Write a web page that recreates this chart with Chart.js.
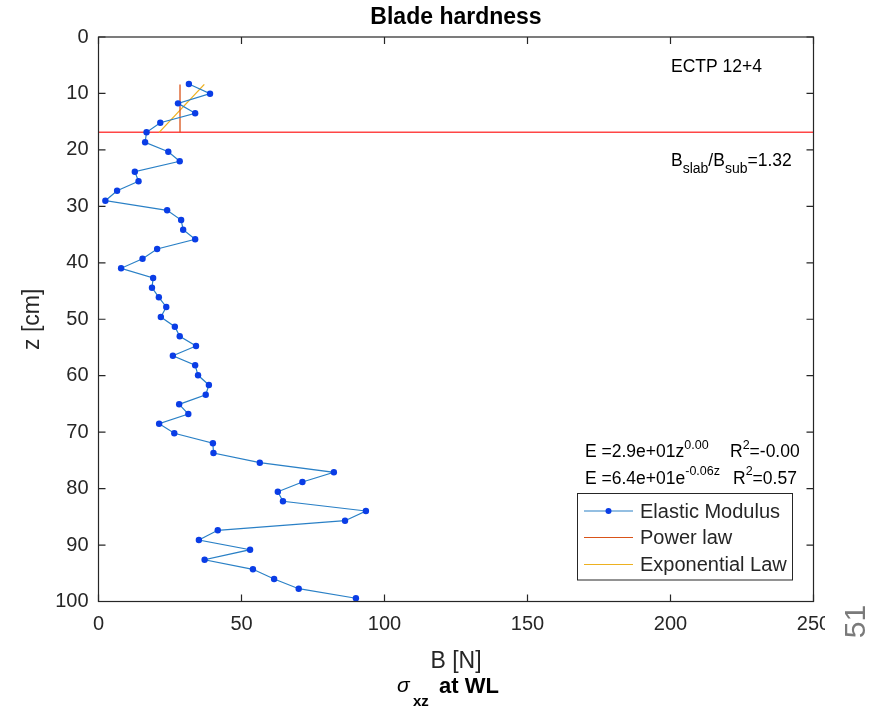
<!DOCTYPE html>
<html><head><meta charset="utf-8">
<script src="https://cdn.jsdelivr.net/npm/chart.js@4.4.1/dist/chart.umd.min.js"></script>
<style>html,body{margin:0;padding:0;background:#fff}#wrap{width:888px;height:710px;position:relative}</style>
</head><body><div id="wrap"><canvas id="c" width="888" height="710"></canvas></div>
<script>
// ---- data ----
const depthZ = [8.33,10.04,11.75,13.52,15.18,16.88,18.65,20.32,22.02,23.86,25.56,27.23,29.0,30.70,32.42,34.14,35.84,37.56,39.27,40.97,42.69,44.41,46.11,47.83,49.60,51.32,53.02,54.74,56.46,58.16,59.93,61.65,63.37,65.07,66.78,68.50,70.20,71.97,73.69,75.41,77.11,78.83,80.55,82.25,83.97,85.69,87.39,89.11,90.82,92.60,94.30,96.01,97.73,99.43];
const bladeB = [31.6,39.0,27.8,33.8,21.6,16.8,16.3,24.4,28.4,12.7,14.0,6.5,2.4,24.0,28.9,29.6,33.8,20.5,15.4,7.9,19.1,18.7,21.1,23.7,21.8,26.7,28.4,34.1,26.0,33.8,34.8,38.6,37.5,28.2,31.4,21.2,26.5,40.0,40.2,56.4,82.3,71.3,62.7,64.5,93.5,86.2,41.7,35.1,53.0,37.1,54.0,61.4,70.0,90.0];
const powerLawB = [28.5, 28.5];
const powerLawZ = [8.4, 16.9];
const expLawB = [37.0, 21.2];
const expLawZ = [8.4, 16.9];
const interfaceZ = [16.88, 16.88];
const interfaceB = [0, 250];
const xTicks = [0, 50, 100, 150, 200, 250];
const yTicks = [0, 10, 20, 30, 40, 50, 60, 70, 80, 90, 100];
const seriesNames = ['Elastic Modulus', 'Power law', 'Exponential Law'];
const titleText = 'Blade hardness';
const xLabel = 'B [N]';
const yLabel = 'z [cm]';

const FONT = "'Liberation Sans', Arial, Helvetica, sans-serif";
const AX = '#262626';
const C_DATA = '#2a80c6', C_MARK = '#0a3de6', C_POW = '#D95319', C_EXP = '#EDB120', C_RED = 'rgb(255,70,70)';

const pts = (xs, ys) => xs.map((x, i) => ({x: x, y: ys[i]}));

const decor = {
  id: 'decor',
  afterDraw(chart) {
    const ctx = chart.ctx, a = chart.chartArea;
    const sx = chart.scales.x, sy = chart.scales.y;
    ctx.save();
    // box
    ctx.strokeStyle = AX; ctx.lineWidth = 1.2;
    ctx.strokeRect(a.left, a.top, a.right - a.left, a.bottom - a.top);
    // inside ticks
    ctx.beginPath();
    const TL = 7;
    xTicks.forEach(v => { const p = sx.getPixelForValue(v);
      ctx.moveTo(p, a.bottom); ctx.lineTo(p, a.bottom - TL);
      ctx.moveTo(p, a.top); ctx.lineTo(p, a.top + TL); });
    yTicks.forEach(v => { const p = sy.getPixelForValue(v);
      ctx.moveTo(a.left, p); ctx.lineTo(a.left + TL, p);
      ctx.moveTo(a.right, p); ctx.lineTo(a.right - TL, p); });
    ctx.stroke();

    ctx.fillStyle = '#000';
    // title
    ctx.font = 'bold 23px ' + FONT; ctx.textAlign = 'center'; ctx.textBaseline = 'middle';
    ctx.fillText(titleText, (a.left + a.right) / 2, 18);
    // x label
    ctx.fillStyle = AX;
    ctx.font = '23px ' + FONT;
    ctx.fillText(xLabel, (a.left + a.right) / 2, 662);
    // y label
    ctx.save(); ctx.translate(33, (a.top + a.bottom) / 2); ctx.rotate(-Math.PI / 2);
    ctx.fillText(yLabel, 0, 0); ctx.restore();
    // sigma_xz at WL
    ctx.fillStyle = '#000'; ctx.textAlign = 'left'; ctx.textBaseline = 'alphabetic';
    ctx.font = 'italic 21px ' + FONT; ctx.fillText('σ', 397, 692);
    ctx.font = 'bold 15px ' + FONT; ctx.fillText('xz', 413, 706);
    ctx.font = 'bold 22px ' + FONT; ctx.fillText('at WL', 439, 693);

    // annotations
    ctx.fillStyle = '#000';
    ctx.font = '17.5px ' + FONT; ctx.fillText('ECTP 12+4', 671, 72);
    let x = 671;
    const run = (t, f, y) => { ctx.font = f; ctx.fillText(t, x, y); x += ctx.measureText(t).width; };
    const MAIN = '17.5px ' + FONT, SUB = '14px ' + FONT;
    run('B', MAIN, 166); run('slab', SUB, 173); run('/B', MAIN, 166); run('sub', SUB, 173); run('=1.32', MAIN, 166);

    const EQ = '17.5px ' + FONT, SUP = '12.5px ' + FONT;
    x = 585; run('E =2.9e+01z', EQ, 457); run('0.00', SUP, 449);
    x = 730; run('R', EQ, 457); run('2', SUP, 449); run('=-0.00', EQ, 457);
    x = 585; run('E =6.4e+01e', EQ, 483.5); run('-0.06z', SUP, 475);
    x = 733; run('R', EQ, 483.5); run('2', SUP, 475); run('=0.57', EQ, 483.5);

    // legend
    const lx = 577.5, ly = 493.5, lw = 215, lh = 86.5;
    ctx.fillStyle = '#fff'; ctx.fillRect(lx, ly, lw, lh);
    ctx.strokeStyle = AX; ctx.lineWidth = 1; ctx.strokeRect(lx, ly, lw, lh);
    const rows = [511, 537.5, 564.5], cols = [C_DATA, C_POW, C_EXP];
    ctx.font = '20px ' + FONT; ctx.textBaseline = 'middle';
    rows.forEach((ry, i) => {
      ctx.strokeStyle = cols[i]; ctx.lineWidth = 1.2;
      ctx.beginPath(); ctx.moveTo(584, ry); ctx.lineTo(633, ry); ctx.stroke();
      if (i === 0) { ctx.fillStyle = C_MARK; ctx.beginPath(); ctx.arc(608.5, ry, 3, 0, Math.PI * 2); ctx.fill(); }
      ctx.fillStyle = AX; ctx.fillText(seriesNames[i], 640, ry + 1);
    });

    // cropped edge of the figure and page number
    ctx.fillStyle = '#fff'; ctx.fillRect(825, 604, 20, 36);
    ctx.save(); ctx.translate(857, 621.5); ctx.rotate(-Math.PI / 2);
    ctx.fillStyle = '#7a7a7a'; ctx.font = '30px ' + FONT; ctx.textAlign = 'center'; ctx.textBaseline = 'middle';
    ctx.fillText('51', 0, 0); ctx.restore();
    ctx.restore();
  }
};

new Chart(document.getElementById('c'), {
  type: 'scatter',
  data: {
    datasets: [
      {label: seriesNames[0], data: pts(bladeB, depthZ), showLine: true, borderColor: C_DATA, borderWidth: 1.2,
       pointRadius: 3.2, pointBackgroundColor: C_MARK, pointBorderColor: C_MARK, pointBorderWidth: 0, tension: 0},
      {label: seriesNames[1], data: pts(powerLawB, powerLawZ), showLine: true, borderColor: C_POW, borderWidth: 1.3, pointRadius: 0},
      {label: seriesNames[2], data: pts(expLawB, expLawZ), showLine: true, borderColor: C_EXP, borderWidth: 1.3, pointRadius: 0},
      {label: 'interface', data: pts(interfaceB, interfaceZ), showLine: true, borderColor: C_RED, borderWidth: 1.6, pointRadius: 0}
    ]
  },
  options: {
    responsive: false, animation: false, devicePixelRatio: 1,
    layout: {padding: {top: 37, right: 74.5, left: 0, bottom: 0}},
    plugins: {legend: {display: false}, tooltip: {enabled: false}, title: {display: false}},
    scales: {
      x: {type: 'linear', min: 0, max: 250,
          afterBuildTicks: s => { s.ticks = xTicks.map(v => ({value: v})); },
          afterFit: s => { s.height = 108.5; },
          ticks: {font: {family: FONT, size: 20}, color: AX, padding: 11, maxRotation: 0, autoSkip: false},
          grid: {display: false, drawTicks: false}, border: {display: false}},
      y: {type: 'linear', min: 0, max: 100, reverse: true,
          afterBuildTicks: s => { s.ticks = yTicks.map(v => ({value: v})); },
          afterFit: s => { s.width = 98.5; },
          ticks: {font: {family: FONT, size: 20}, color: AX, padding: 10, autoSkip: false},
          grid: {display: false, drawTicks: false}, border: {display: false}}
    }
  },
  plugins: [decor]
});
</script>
</body></html>
